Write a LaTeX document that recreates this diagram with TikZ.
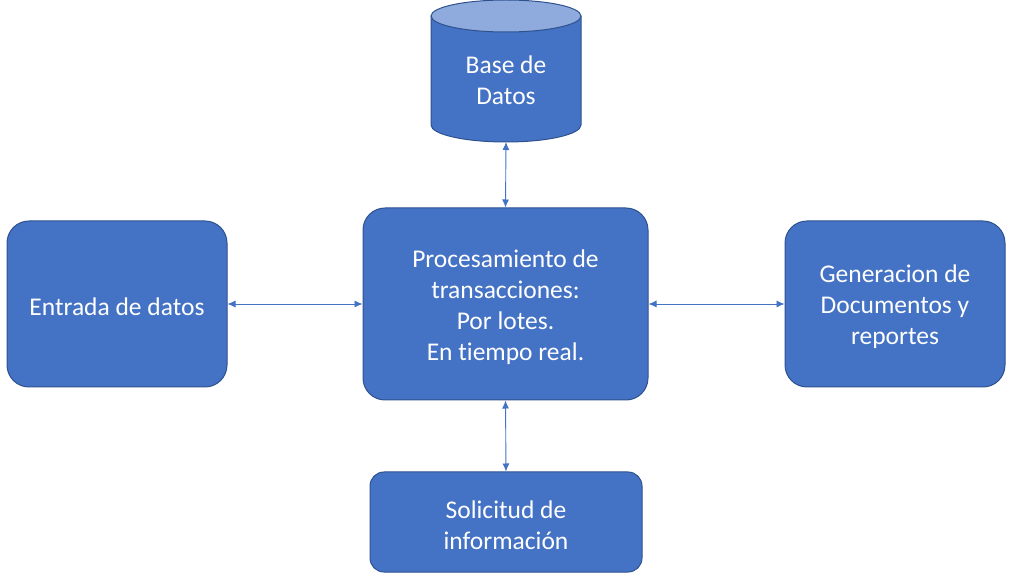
\documentclass[tikz,border=0pt]{standalone}
\usepackage{fontspec}
\setmainfont{Carlito}[Ligatures=NoCommon]
\usetikzlibrary{arrows.meta}
\definecolor{boxfill}{HTML}{4472C4}
\definecolor{boxline}{HTML}{2F528F}
\definecolor{toplight}{HTML}{8FAADC}
\begin{document}
\begin{tikzpicture}[x=1pt,y=-1pt,
  box/.style={draw=boxline,fill=boxfill,line width=1pt,rounded corners=22pt,inner sep=0pt},
  lbl/.style={text=white,align=center,font=\fontsize{25.5}{31}\selectfont,inner sep=0pt},
  conn/.style={draw=boxfill,line width=0.9pt,{Latex[length=8pt,width=7pt]}-{Latex[length=8pt,width=7pt]}}]
\useasboundingbox (0,0) rectangle (1013,577);
% boxes
\node[box,minimum width=285pt,minimum height=192pt] (proc) at (505.5,304) {};
\node[box,minimum width=220pt,minimum height=166pt] (entrada) at (117,304) {};
\node[box,minimum width=220pt,minimum height=166pt] (gen) at (895,304) {};
\node[box,minimum width=272pt,minimum height=100pt,rounded corners=14pt] (sol) at (506,522) {};
\node[lbl] (proct) at ([yshift=-3pt]proc.center) {Procesamiento de\\transacciones:\\Por lotes.\\En tiempo real.};
\node[lbl] (entradat) at ([yshift=-3pt]entrada.center) {Entrada de datos};
\node[lbl] (gent) at ([yshift=-3pt]gen.center) {Generacion de\\Documentos y\\reportes};
\node[lbl] (solt) at ([yshift=-3pt]sol.center) {Solicitud de\\información};
% cylinder
\draw[boxline,fill=boxfill,line width=1pt] (431,16) -- (431,125) arc[start angle=180,end angle=0,x radius=75,y radius=17] -- (581,16);
\draw[boxline,fill=toplight,line width=1pt] (506,16) ellipse[x radius=75,y radius=16];
\node[lbl] (db) at (506,80) {Base de\\Datos};
\coordinate (dbb) at (506,142);
% connectors
\draw[conn] (dbb) -- (proc.north);
\draw[conn] (entrada.east) -- (proc.west);
\draw[conn] (proc.east) -- (gen.west);
\draw[conn] (proc.south) -- (sol.north);
\end{tikzpicture}
\end{document}
